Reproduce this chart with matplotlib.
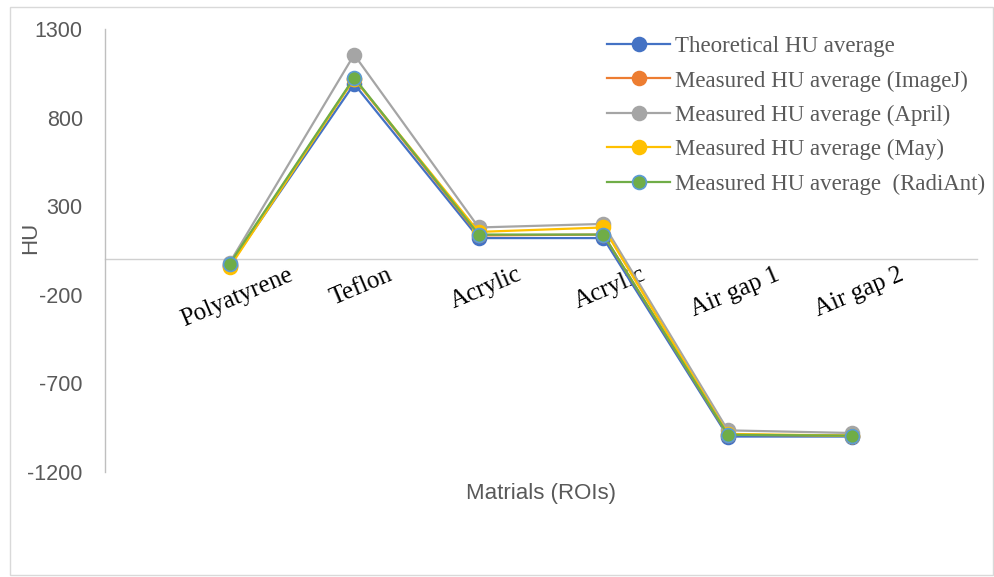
import matplotlib
matplotlib.use("Agg")
import matplotlib.pyplot as plt
from matplotlib.patches import Rectangle
from matplotlib.transforms import ScaledTranslation
from matplotlib.lines import Line2D

# Materials (regions of interest)
materials = ["Polyatyrene", "Teflon", "Acrylic", "Acrylic", "Air gap 1", "Air gap 2"]

# HU averages per series
theoretical = [-35, 990, 120, 120, -1000, -1000]
imagej = [-30, 1020, 135, 140, -990, -995]
april = [-20, 1155, 180, 200, -965, -980]
may = [-45, 1020, 155, 180, -985, -995]
radiant = [-25, 1025, 140, 140, -990, -995]

series_labels = [
    "Theoretical HU average",
    "Measured HU average (ImageJ)",
    "Measured HU average (April)",
    "Measured HU average (May)",
    "Measured HU average  (RadiAnt)",
]
yticks = [1300, 800, 300, -200, -700, -1200]

W, H, DPI = 995, 577, 100
fig = plt.figure(figsize=(W / DPI, H / DPI), dpi=DPI)
fig.patch.set_facecolor("white")

# outer chart-area border
fig.add_artist(Rectangle((10 / W, 1 - 575 / H), (993 - 10) / W, (575 - 7) / H,
                         transform=fig.transFigure, fill=False,
                         edgecolor="#D9D9D9", linewidth=1.0))

left, right, top, bottom = 105, 977, 29, 472
ax = fig.add_axes([left / W, 1 - bottom / H, (right - left) / W, (bottom - top) / H])
ax.set_facecolor("none")

x = list(range(1, len(materials) + 1))
styles = [
    (theoretical, "#4472C4", "#4472C4", "#4472C4"),
    (imagej, "#ED7D31", "#ED7D31", "#ED7D31"),
    (april, "#A5A5A5", "#A5A5A5", "#A5A5A5"),
    (may, "#FFC000", "#FFC000", "#FFC000"),
    (radiant, "#70AD47", "#70AD47", "#5B9BD5"),
]
handles = []
for (vals, lc, fc, ec), lab in zip(styles, series_labels):
    ax.plot(x, vals, color=lc, linewidth=1.6, marker="o", markersize=10,
            markerfacecolor=fc, markeredgecolor=ec, markeredgewidth=1.2,
            zorder=3)
    handles.append(Line2D([0], [0], color=lc, linewidth=1.6, marker="o",
                          markersize=10, markerfacecolor=fc,
                          markeredgecolor=ec, markeredgewidth=1.2))

ax.set_xlim(0, 7)
ax.set_ylim(-1200, 1300)

for side in ("top", "right"):
    ax.spines[side].set_visible(False)
ax.spines["left"].set_color("#BFBFBF")
ax.spines["left"].set_linewidth(1.0)
ax.spines["bottom"].set_position(("data", 0))
ax.spines["bottom"].set_color("#D0D0D0")
ax.spines["bottom"].set_linewidth(1.0)
ax.spines["bottom"].set_zorder(1)

ax.set_yticks(yticks)
ax.set_yticklabels([str(v) for v in yticks], fontsize=15.5,
                   family="Liberation Sans", color="#595959")
ax.tick_params(axis="y", length=0, pad=16)

ax.set_xticks(x)
ax.set_xticklabels(materials, rotation=23, ha="center", fontsize=18,
                   family="Liberation Serif", color="black")
ax.tick_params(axis="x", length=0, pad=3)
for lbl in ax.get_xticklabels():
    lbl.set_transform(lbl.get_transform() + ScaledTranslation(7 / DPI, 0, fig.dpi_scale_trans))

fig.text(31 / W, 1 - 238 / H, "HU", rotation=90, ha="center", va="center",
         fontsize=16, family="Liberation Sans", color="#595959")
fig.text(541 / W, 1 - 494 / H, "Matrials (ROIs)", ha="center", va="center",
         fontsize=16, family="Liberation Sans", color="#595959")

leg = ax.legend(handles, series_labels, loc="upper left",
                bbox_to_anchor=(607 / W, 1 - 36 / H), bbox_transform=fig.transFigure,
                frameon=False, borderpad=0, borderaxespad=0,
                handlelength=2.75, handletextpad=0.2, labelspacing=0.58,
                prop={"family": "Liberation Serif", "size": 16.5})
for t in leg.get_texts():
    t.set_color("#595959")

fig.savefig("out.png", dpi=DPI, facecolor="white")
